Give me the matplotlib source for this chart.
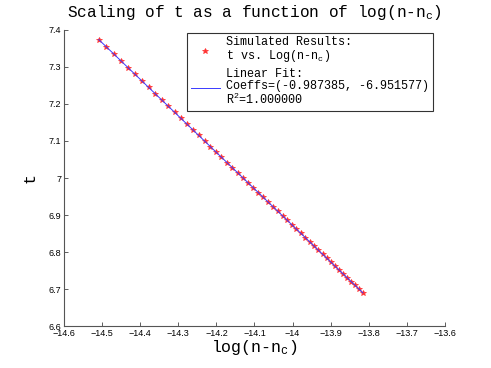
import numpy as np
import matplotlib
matplotlib.use("Agg")
from matplotlib import pyplot as plt
from matplotlib.ticker import FuncFormatter

plt.rcParams['mathtext.default'] = 'regular'

# log(n - n_c) values
log_dn = [-14.5087, -14.4889, -14.4694, -14.4504, -14.4317, -14.4133, -14.3953,
          -14.3776, -14.3602, -14.3431, -14.3263, -14.3098, -14.2935, -14.2775,
          -14.2618, -14.2463, -14.2310, -14.2160, -14.2012, -14.1866, -14.1722,
          -14.1580, -14.1440, -14.1302, -14.1166, -14.1032, -14.0899, -14.0769,
          -14.0640, -14.0512, -14.0387, -14.0262, -14.0140, -14.0018, -13.9899,
          -13.9780, -13.9663, -13.9548, -13.9433, -13.9320, -13.9209, -13.9098,
          -13.8989, -13.8881, -13.8774, -13.8668, -13.8563, -13.8460, -13.8357,
          -13.8256, -13.8155]
t_vals = [7.3741, 7.3545, 7.3353, 7.3165, 7.2981, 7.2799, 7.2621, 7.2447, 7.2275,
          7.2106, 7.1940, 7.1777, 7.1616, 7.1458, 7.1303, 7.1150, 7.0999, 7.0851,
          7.0705, 7.0561, 7.0418, 7.0278, 7.0140, 7.0004, 6.9869, 6.9737, 6.9606,
          6.9477, 6.9350, 6.9224, 6.9100, 6.8977, 6.8856, 6.8736, 6.8618, 6.8501,
          6.8385, 6.8272, 6.8158, 6.8047, 6.7937, 6.7828, 6.7720, 6.7613, 6.7508,
          6.7403, 6.7299, 6.7198, 6.7096, 6.6996, 6.6896]
coeffs = [-0.987385, -6.951577]
r2 = 1.0

mono = 'Liberation Mono'

fig = plt.figure(figsize=(4.91, 3.68), dpi=100)
ax = fig.add_axes([0.1303, 0.1141, 0.7760, 0.8044])

ax.plot(log_dn, t_vals, '*', color='#ff3030', markersize=4.2, markeredgewidth=0.5,
        label='Simulated Results:\nt vs. Log(n-n$_c$)')
ax.plot(log_dn, np.polyval(coeffs, log_dn), '-', color='#3a3aff', linewidth=0.7,
        label='Linear Fit:\nCoeffs=(%f, %f)\nR$^2$=%f' % (coeffs[0], coeffs[1], r2))

ax.set_xlim(-14.6, -13.6)
ax.set_ylim(6.6, 7.4)
ax.set_xticks(np.arange(-14.6, -13.55, 0.1))
ax.set_yticks(np.arange(6.6, 7.45, 0.1))
fmt = FuncFormatter(lambda v, p: ('%g' % round(v, 2)).replace('-', '\u2212'))
ax.xaxis.set_major_formatter(fmt)
ax.yaxis.set_major_formatter(fmt)
ax.tick_params(direction='in', length=3, width=0.6, labelsize=6.5, pad=2,
               colors='#444444', labelcolor='black')
for lab in ax.get_xticklabels() + ax.get_yticklabels():
    lab.set_family('Liberation Sans')
ax.spines['top'].set_visible(False)
ax.spines['right'].set_visible(False)
for s in ['left', 'bottom']:
    ax.spines[s].set_color('#555555')
    ax.spines[s].set_linewidth(0.8)

ax.set_title('Scaling of t as a function of log(n-n$_c$)', family=mono,
             fontsize=11.6, pad=9)
ax.set_xlabel('log(n-n$_c$)', family=mono, fontsize=12, labelpad=0)
ax.set_ylabel('t', family=mono, fontsize=12, labelpad=8, rotation=90)

leg = ax.legend(loc='upper right', bbox_to_anchor=(0.975, 1.0),
                prop={'family': mono, 'size': 8.5}, frameon=True, fancybox=False,
                handlelength=2.5, handletextpad=0.5, borderpad=0.3,
                labelspacing=0.3, borderaxespad=0.25)
for txt in leg.get_texts():
    txt.set_linespacing(1.0)
leg.get_frame().set_edgecolor('black')
leg.get_frame().set_linewidth(0.8)

fig.savefig('out.png', dpi=100)
